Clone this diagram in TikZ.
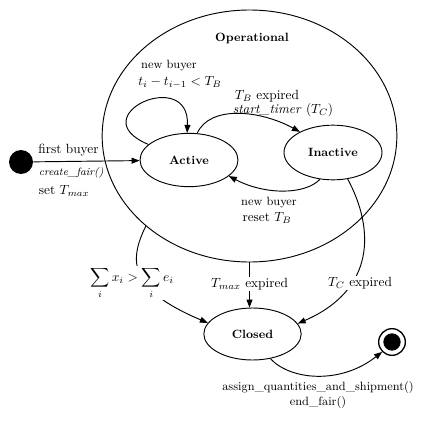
\documentclass[tikz,border=0pt]{standalone}
\usepackage{tikz}
\usetikzlibrary{arrows.meta,shapes.geometric}

\tikzset{
  stnode/.style={ellipse,draw,font=\small\bfseries,inner sep=0pt},
  small/.style={font=\small},
  cover/.style={fill=white,inner sep=1pt},
}

\begin{document}
\begin{tikzpicture}[x=0.75pt,y=-0.75pt,line width=0.7pt,>={Triangle[length=6pt,width=4.5pt]}]
  \useasboundingbox (0,0) rectangle (421,432);
  % states
  \node[stnode,minimum width=221pt,minimum height=189pt] (oper) at (249.5,136) {};
  \node[font=\small\bfseries] (oplbl) at (252,38) {Operational};
  \node[stnode,minimum width=73.5pt,minimum height=40pt] (active) at (189,160) {Active};
  \node[stnode,minimum width=73.5pt,minimum height=41pt] (inactive) at (333,152.5) {Inactive};
  \node[stnode,minimum width=73pt,minimum height=39pt] (closed) at (252.5,334) {Closed};
  \node[circle,fill=black,minimum size=18pt,inner sep=0pt] (init) at (21,162) {};
  \node[circle,draw,line width=1pt,minimum size=20pt,inner sep=0pt] (final) at (392,342) {};
  \node[circle,fill=black,minimum size=13pt,inner sep=0pt] (finaldot) at (final) {};

  % transitions
  \path[->]
    (init) edge node[pos=0.33,above] (firstlbl) {first buyer} (active)
    (oper.south) edge node[cover,pos=0.48] (tmaxlbl) {$T_{max}$ expired} (oper.south |- closed.north);
  \draw[->] (active.159) .. controls (80,116) and (190,66) .. (active.94);
  \draw[->] (active.73) .. controls (210,105) and (260,110) .. (inactive.148);
  \draw[->] (inactive.244) .. controls (305,195) and (265,195) .. (active.-22);
  \draw[->] (oper.221) .. controls (128,262) and (130,290) .. (closed.166);
  \draw[->] (inactive.-61) .. controls (375,230) and (375,290) .. (closed.13);
  \draw[->] (closed.-54) .. controls (290,380) and (340,385) .. (final.225);

  % labels
  \node[font=\footnotesize\itshape,anchor=west] (createlbl) at (34,173) {create\_fair()};
  \node[anchor=west] (setlbl) at (34,191) {set $T_{max}$};
  \node[small] (nb1lbl) at (169,66) {new buyer};
  \node (difflbl) at (180,82) {$t_i - t_{i-1} < T_B$};
  \node (tblbl) at (267,96) {$T_B$ expired};
  \node (timerlbl) at (283,110) {\textit{start\_timer} $(T_C)$};
  \node[small] (nb2lbl) at (269,203) {new buyer};
  \node (resetlbl) at (267,218) {reset $T_B$};
  \node[cover] (sumlbl) at (132,283) {$\displaystyle\sum_i x_i > \sum_i e_i$};
  \node[cover] (tclbl) at (360,283) {$T_C$ expired};
  \node[small,align=center] (endlbl) at (318,395) {assign\_quantities\_and\_shipment()\\end\_fair()};
\end{tikzpicture}
\end{document}
